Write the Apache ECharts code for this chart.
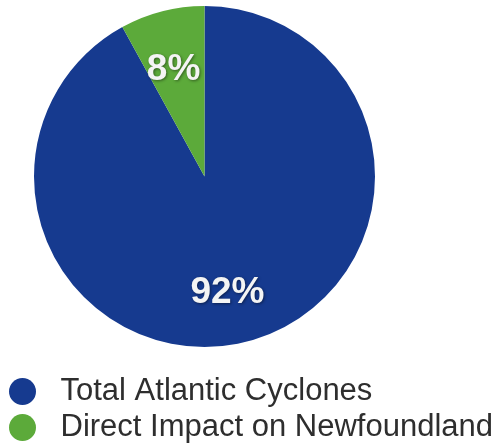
<!DOCTYPE html>
<html>
<head>
<meta charset="utf-8">
<script src="https://cdn.jsdelivr.net/npm/echarts@6/dist/echarts.min.js"></script>
<style>
  html, body { margin: 0; padding: 0; background: #ffffff; }
  #chart { width: 500px; height: 445px; }
</style>
</head>
<body>
<div id="chart"></div>
<script>
// Share of Atlantic cyclones, in percent
const categories = ['Total Atlantic Cyclones', 'Direct Impact on Newfoundland'];
const shares = [92, 8];
const sliceColors = ['#163a8f', '#5caa3a'];

// Nudge the in-slice percentage labels outward from the default mid-radius spot
const labelNudge = [[1, 31], [-9, -21]];

const chart = echarts.init(document.getElementById('chart'), null, { renderer: 'canvas' });

chart.setOption({
  animation: false,
  backgroundColor: '#ffffff',
  legend: {
    orient: 'vertical',
    left: 4,
    top: 371,
    height: 120,
    icon: 'circle',
    itemWidth: 28,
    itemHeight: 27,
    itemGap: 5,
    selectedMode: false,
    data: categories,
    textStyle: {
      fontFamily: 'Liberation Sans, Arial, sans-serif',
      fontSize: 31,
      lineHeight: 31,
      color: '#2e2e2e',
      padding: [0, 0, 0, 19]
    }
  },
  series: [{
    type: 'pie',
    center: [204.5, 176.5],
    radius: [0, 170.5],
    startAngle: 90,
    clockwise: true,
    silent: true,
    data: categories.map((name, i) => ({
      name: name,
      value: shares[i],
      itemStyle: { color: sliceColors[i] }
    })),
    label: {
      show: true,
      position: 'inside',
      formatter: '{c}%',
      fontFamily: 'Liberation Sans, Arial, sans-serif',
      fontSize: 37,
      fontWeight: 'bold',
      color: '#f4f4f4',
      textShadowColor: 'rgba(0,0,0,0.45)',
      textShadowBlur: 3,
      textShadowOffsetX: 1,
      textShadowOffsetY: 1
    },
    labelLine: { show: false },
    labelLayout: function (params) {
      const n = labelNudge[params.dataIndex];
      return { dx: n[0], dy: n[1] };
    }
  }]
});
</script>
</body>
</html>
